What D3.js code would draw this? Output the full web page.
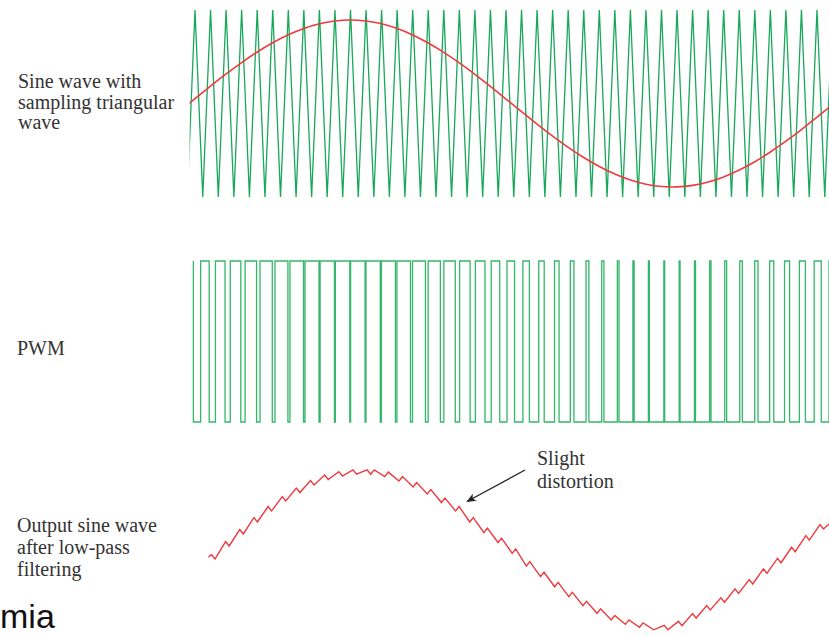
<!DOCTYPE html>
<html>
<head>
<meta charset="utf-8">
<script src="https://cdn.jsdelivr.net/npm/d3@7"></script>
<style>
  body { margin: 0; background: #fff; }
  svg { display: block; }
</style>
</head>
<body>
<script>
//Global sizes
var W = 829;
var H = 636;

//Carrier (triangle) vertex levels, one every half carrier period, from t = -0.5
var carrierLevels = [
  -1, 1, -1, 1, -1, 1, -1, 1, -1, 1, -1, 1, -1, 1, -1, 1, -1, 1, -1, 1,
  -1, 1, -1, 1, -1, 1, -1, 1, -1, 1, -1, 1, -1, 1, -1, 1, -1, 1, -1, 1,
  -1, 1, -1, 1, -1, 1, -1, 1, -1, 1, -1, 1, -1, 1, -1, 1, -1, 1, -1, 1,
  -1, 1, -1, 1, -1, 1, -1, 1, -1, 1, -1, 1, -1, 1, -1, 1, -1, 1, -1, 1,
  -1, 1, -1, 1, -1
];

//Reference sine, read once per carrier period, t = -1 .. 42
var sineSamples = [
  -0.083, 0.052, 0.186, 0.316, 0.438, 0.551, 0.650, 0.735, 0.803, 0.853,
  0.883, 0.893, 0.882, 0.852, 0.801, 0.733, 0.647, 0.547, 0.434, 0.312,
  0.182, 0.048, -0.087, -0.220, -0.349, -0.469, -0.578, -0.674, -0.755, -0.818,
  -0.863, -0.888, -0.892, -0.876, -0.840, -0.785, -0.712, -0.623, -0.519, -0.403,
  -0.279, -0.147, -0.013, 0.122
];

//Filtered output: level at the foot of each ripple tooth, tooth -1 .. 44
var outputFeet = [
  -0.150, -0.106, 0.056, 0.205, 0.354, 0.491, 0.615, 0.720, 0.814, 0.882,
  0.925, 0.947, 0.947, 0.919, 0.863, 0.789, 0.702, 0.596, 0.491, 0.354,
  0.224, 0.099, -0.035, -0.193, -0.325, -0.450, -0.574, -0.686, -0.780, -0.863,
  -0.917, -0.954, -0.985, -0.985, -0.935, -0.839, -0.739, -0.643, -0.532, -0.416,
  -0.283, -0.152, -0.015, 0.130, 0.267, 0.330
];
var rippleHeight = 0.055;

//Labels on the left
var topLabel = ["Sine wave with", "sampling triangular", "wave"];
var midLabel = ["PWM"];
var lowLabel = ["Output sine wave", "after low-pass", "filtering"];
var noteLabel = ["Slight", "distortion"];

var green = "#17a85a";
var red = "#ef3a3f";
var ink = "#333";

function main() {
  var svg = d3.select("body").append("svg")
    .attr("width", W)
    .attr("height", H);

  var defs = svg.append("defs");
  defs.append("clipPath").attr("id", "clipTop")
    .append("rect").attr("x", 189.6).attr("y", 0).attr("width", W).attr("height", 220);
  defs.append("clipPath").attr("id", "clipOut")
    .append("rect").attr("x", 208.3).attr("y", 440).attr("width", W).attr("height", 200);
  defs.append("marker")
    .attr("id", "head")
    .attr("viewBox", "0 0 12 10")
    .attr("refX", 11).attr("refY", 5)
    .attr("markerWidth", 12).attr("markerHeight", 8)
    .attr("markerUnits", "userSpaceOnUse")
    .attr("orient", "auto")
    .append("path")
    .attr("d", "M0,0 L12,5 L0,10 L3,5 z")
    .attr("fill", "#222");

  drawTop(svg);
  drawPwm(svg);
  drawOutput(svg);
  drawText(svg);
}

function drawTop(svg) {
  //Triangle carrier with the sine on top of it
  var x = d3.scaleLinear().domain([0, 40]).range([195, 817]);
  var y = d3.scaleLinear().domain([-1, 1]).range([197, 10]);
  var g = svg.append("g").attr("clip-path", "url(#clipTop)");

  var tri = carrierLevels.map(function(v, i) {
    return [x(-0.5 + i / 2), y(v)];
  });
  g.append("path")
    .attr("d", d3.line()(tri))
    .attr("fill", "none")
    .attr("stroke", green)
    .attr("stroke-width", 1.3)
    .attr("stroke-linejoin", "miter");

  var sine = sineSamples.map(function(v, i) {
    return [x(i - 1), y(v)];
  });
  g.append("path")
    .attr("d", d3.line().curve(d3.curveNatural)(sine))
    .attr("fill", "none")
    .attr("stroke", red)
    .attr("stroke-width", 1.6);
}

function drawPwm(svg) {
  //High while the sine is above the carrier; low pulse centred on each carrier peak
  var x = d3.scaleLinear().domain([0, 40]).range([197, 809.8]);
  var y = d3.scaleLinear().domain([0, 1]).range([422, 261]);
  var pts = [];
  for (var k = 0; k + 1 < sineSamples.length; k++) {
    var half = (1 - sineSamples[k + 1]) / 4;
    pts.push([x(k - half), y(1)]);
    pts.push([x(k - half), y(0)]);
    pts.push([x(k + half), y(0)]);
    pts.push([x(k + half), y(1)]);
  }
  svg.append("path")
    .attr("d", d3.line()(pts))
    .attr("fill", "none")
    .attr("stroke", "#34b76a")
    .attr("stroke-width", 1.3);
}

function drawOutput(svg) {
  //Sawtooth ripple: rise to a crest, fall to the next foot
  var x = d3.scaleLinear().domain([0, 43]).range([215, 823.5]);
  var y = d3.scaleLinear().domain([-1, 1]).range([631, 470]);
  var pts = [];
  outputFeet.forEach(function(v, i) {
    var k = i - 1;
    pts.push([x(k), y(v)]);
    if (i + 1 < outputFeet.length) {
      var next = outputFeet[i + 1];
      var frac = next >= v ? 0.75 : 0.25;
      pts.push([x(k + frac), y(Math.max(v, next) + rippleHeight)]);
    }
  });
  svg.append("g").attr("clip-path", "url(#clipOut)")
    .append("path")
    .attr("d", d3.line()(pts))
    .attr("fill", "none")
    .attr("stroke", red)
    .attr("stroke-width", 1.4)
    .attr("stroke-linejoin", "miter");

  //Pointer to the distortion
  svg.append("line")
    .attr("x1", 525).attr("y1", 470)
    .attr("x2", 467).attr("y2", 501.5)
    .attr("stroke", "#222")
    .attr("stroke-width", 1.3)
    .attr("marker-end", "url(#head)");
}

function block(svg, lines, x, y0, step) {
  svg.append("text")
    .attr("font-family", "'Liberation Serif', 'Times New Roman', serif")
    .attr("font-size", "20px")
    .attr("fill", ink)
    .selectAll("tspan")
    .data(lines)
    .enter()
    .append("tspan")
    .attr("x", x)
    .attr("y", function(d, i) { return y0 + i * step; })
    .text(function(d) { return d; });
}

function drawText(svg) {
  block(svg, topLabel, 18, 88, 20.6);
  block(svg, midLabel, 17, 355, 20.6);
  block(svg, lowLabel, 17, 532, 22);
  block(svg, noteLabel, 537, 465, 23);

  svg.append("text")
    .attr("x", 0)
    .attr("y", 628)
    .attr("font-family", "'Liberation Sans', Arial, sans-serif")
    .attr("font-size", "34px")
    .attr("fill", "#111")
    .text("mia");
}

main();
</script>
</body>
</html>
